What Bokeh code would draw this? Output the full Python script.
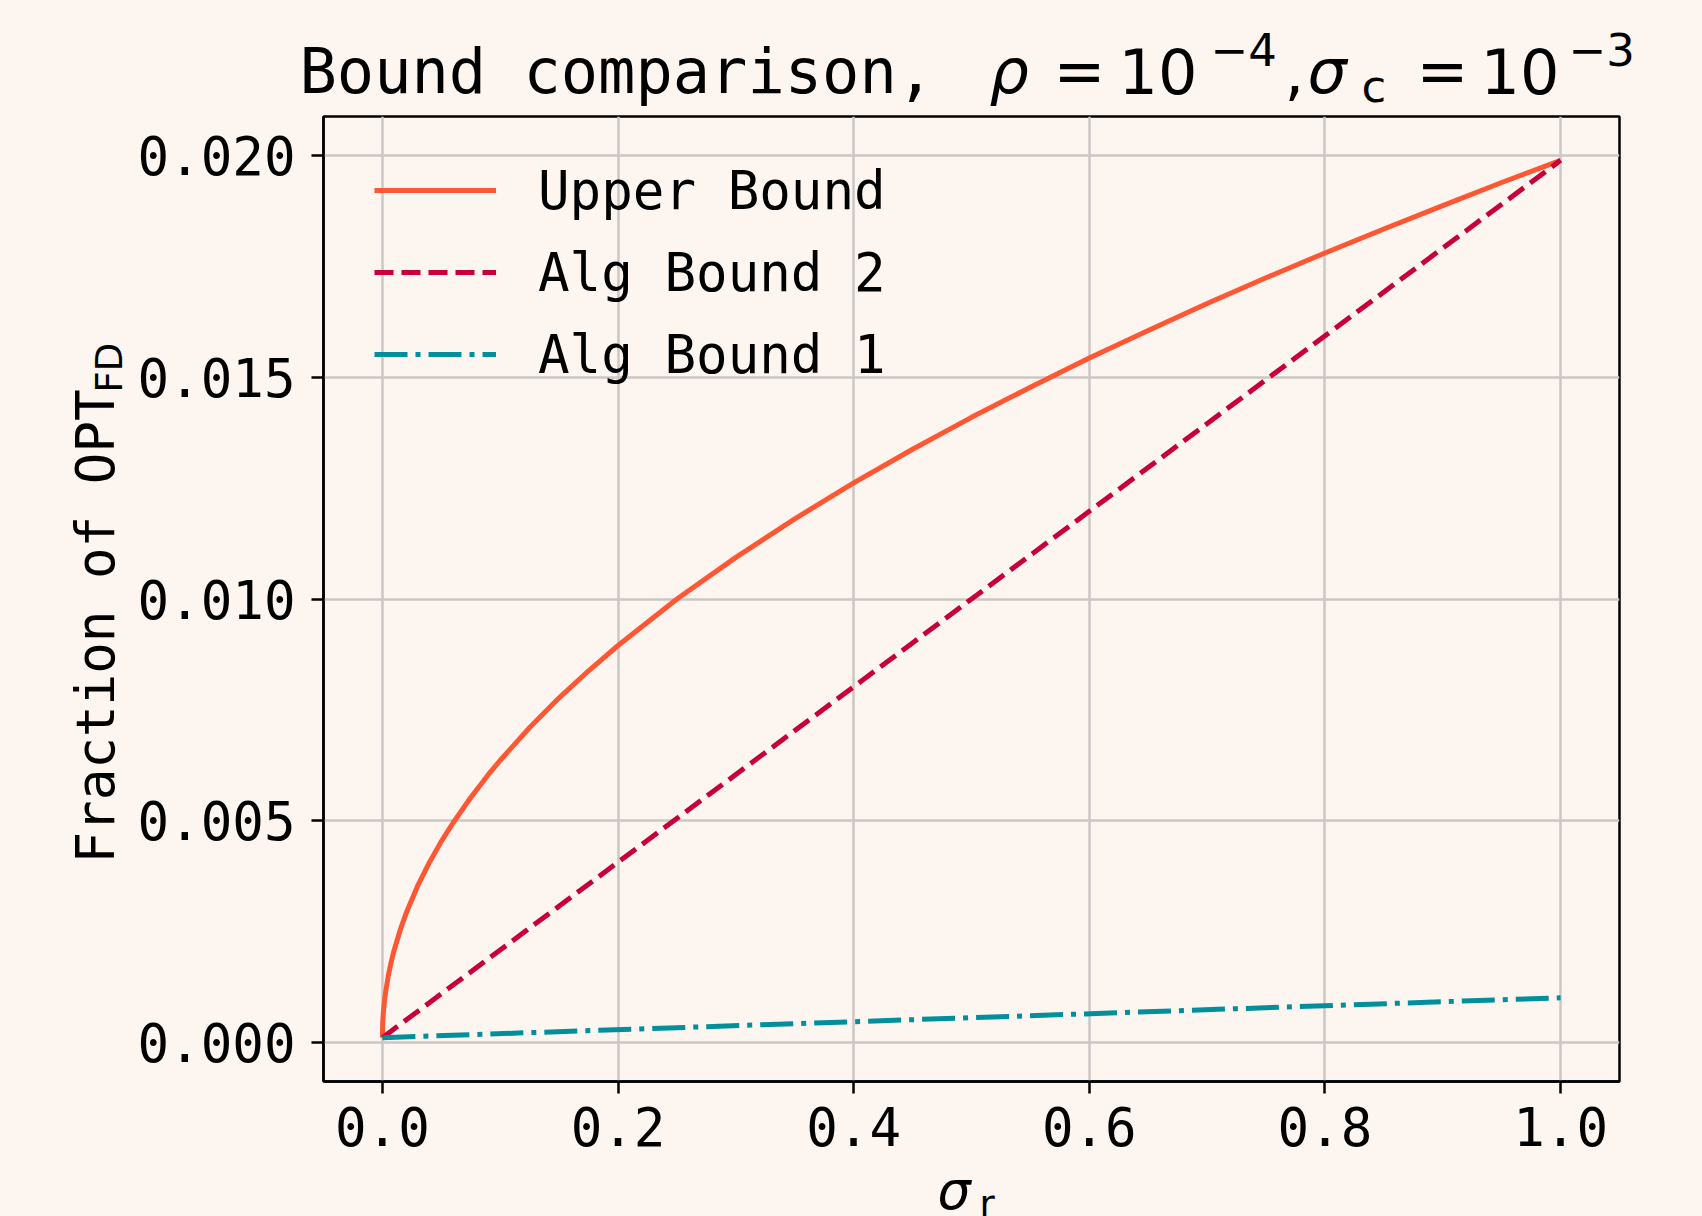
import math
from bokeh.plotting import figure
from bokeh.layouts import column, row
from bokeh.models import (Label, Legend, LegendItem, FixedTicker,
                          PrintfTickFormatter, Range1d)
from bokeh.embed import file_html
from bokeh.resources import INLINE

# ---- data ----
sigma_r = [0.0, 0.0002, 0.0005, 0.001, 0.002, 0.003, 0.005, 0.0075, 0.01,
           0.015, 0.02, 0.03, 0.04, 0.05, 0.06, 0.075, 0.09, 0.1, 0.125,
           0.15, 0.175, 0.2, 0.25, 0.3, 0.35, 0.4, 0.45, 0.5, 0.55, 0.6,
           0.65, 0.7, 0.75, 0.8, 0.85, 0.9, 0.95, 1.0]
upper_bound = [0.0001, 0.00038, 0.00054, 0.00073, 0.00099, 0.00118, 0.0015,
               0.00181, 0.00208, 0.00252, 0.0029, 0.00353, 0.00406, 0.00453,
               0.00495, 0.00552, 0.00604, 0.00636, 0.0071, 0.00777, 0.00838,
               0.00895, 0.0100, 0.01094, 0.01181, 0.01262, 0.01338, 0.0141,
               0.01478, 0.01544, 0.01606, 0.01667, 0.01725, 0.01781, 0.01835,
               0.01888, 0.0194, 0.0199]
sigma_r_lin = [0.0, 1.0]
alg_bound_2 = [0.0001, 0.0199]
alg_bound_1 = [0.0001, 0.0010]

x_ticks = [0.0, 0.2, 0.4, 0.6, 0.8, 1.0]
y_ticks = [0.0, 0.005, 0.010, 0.015, 0.020]
series_names = ["Upper Bound", "Alg Bound 2", "Alg Bound 1"]

# ---- style ----
BG = "#FDF5F0"
C_UPPER = "#FF5733"
C_ALG2 = "#C70039"
C_ALG1 = "#028F9C"
GRID = "#CBC7C6"
MONO = "DejaVu Sans Mono"
SANS = "DejaVu Sans"
S_BASE = 52.5
S_SUB = 37.0
S_TITLE = 62.0
S_TSUB = 45.0
MID = 0.345  # distance baseline -> text middle, in em

W = 1702
TOP_H = 113
MID_H = 1055
BOT_H = 1216 - TOP_H - MID_H
LEFT_W = 130


def blank(width, height):
    f = figure(width=width, height=height, output_backend="svg",
               toolbar_location=None, x_axis_type=None, y_axis_type=None,
               min_border=0, x_range=Range1d(0, 1), y_range=Range1d(0, 1))
    f.outline_line_color = None
    f.background_fill_color = BG
    f.border_fill_color = BG
    return f


def lab(fig, x, base, text, font=SANS, size=S_BASE, style="normal",
        vertical=False):
    """x, base: position of the text origin / baseline in screen px
    (from the frame's left and bottom)."""
    off = MID * size
    if vertical:
        ax, ay, ang = x - off, base, math.pi / 2
    else:
        ax, ay, ang = x, base + off, 0.0
    fig.add_layout(Label(x=ax, y=ay, x_units="screen", y_units="screen",
                         text=text, text_font=font,
                         text_font_size=f"{size}px",
                         text_font_style=style, text_color="black",
                         text_align="left", text_baseline="middle",
                         angle=ang))


# ---- main plot ----
p = figure(width=W - LEFT_W, height=MID_H, output_backend="svg",
           toolbar_location=None,
           x_range=Range1d(-0.05, 1.05), y_range=Range1d(-0.00089, 0.02089),
           min_border_left=193, min_border_right=83,
           min_border_top=3, min_border_bottom=87)

p.background_fill_color = BG
p.border_fill_color = BG
p.outline_line_color = "black"
p.outline_line_width = 2.5

p.xaxis.ticker = FixedTicker(ticks=x_ticks)
p.yaxis.ticker = FixedTicker(ticks=y_ticks)
p.xaxis.formatter = PrintfTickFormatter(format="%.1f")
p.yaxis.formatter = PrintfTickFormatter(format="%.3f")
for ax in (p.xaxis, p.yaxis):
    ax.axis_line_color = "black"
    ax.axis_line_width = 2.5
    ax.major_tick_line_color = "black"
    ax.major_tick_line_width = 2.5
    ax.major_tick_out = 12
    ax.major_tick_in = 0
    ax.minor_tick_line_color = None
    ax.major_label_text_font = MONO
    ax.major_label_text_font_size = f"{S_BASE}px"
    ax.major_label_text_color = "black"
p.yaxis.major_label_standoff = 16
p.xaxis.major_label_standoff = 13

p.xgrid.ticker = FixedTicker(ticks=x_ticks)
p.ygrid.ticker = FixedTicker(ticks=y_ticks)
p.grid.grid_line_color = GRID
p.grid.grid_line_width = 2.5

r1 = p.line(sigma_r, upper_bound, line_color=C_UPPER, line_width=5,
            line_join="round")
r2 = p.line(sigma_r_lin, alg_bound_2, line_color=C_ALG2, line_width=5,
            line_dash="19 8")
r3 = p.line(sigma_r_lin, alg_bound_1, line_color=C_ALG1, line_width=5,
            line_dash="33 8 5 8")

legend = Legend(items=[LegendItem(label=series_names[0], renderers=[r1]),
                       LegendItem(label=series_names[1], renderers=[r2]),
                       LegendItem(label=series_names[2], renderers=[r3])],
                location=(51, 696), padding=0, margin=0, spacing=20,
                glyph_width=122, glyph_height=62, label_height=62,
                label_standoff=42, label_text_font=MONO,
                label_text_font_size=f"{S_BASE}px", label_text_color="black",
                background_fill_alpha=0, border_line_alpha=0)
p.add_layout(legend)

# ---- title strip: Bound comparison, rho = 10^-4, sigma_c = 10^-3 ----
t = blank(W, TOP_H)
TB = TOP_H - 92      # main baseline (from strip bottom)
TSUP = TOP_H - 65    # superscript baseline
TSUB = TOP_H - 102   # subscript baseline
lab(t, 299, TB, "Bound comparison, ", font=MONO, size=S_TITLE)
lab(t, 989, TB, "ρ", size=S_TITLE, style="italic")
lab(t, 1053, TB, "=", size=S_TITLE)
lab(t, 1118, TB, "10", size=S_TITLE)
lab(t, 1210, TSUP, "−4", size=S_TSUB)
lab(t, 1284, TB, ",", size=S_TITLE)
lab(t, 1307, TB, "σ", size=S_TITLE, style="italic")
lab(t, 1361, TSUB, "c", size=S_TSUB)
lab(t, 1416, TB, "=", size=S_TITLE)
lab(t, 1480, TB, "10", size=S_TITLE)
lab(t, 1568, TSUP, "−3", size=S_TSUB)

# ---- y label strip: Fraction of OPT_FD (frame aligned with main frame) ----
yl = blank(LEFT_W, MID_H)
FRAME_BOTTOM = 1081
lab(yl, 113, FRAME_BOTTOM - 863, "Fraction of OPT", font=MONO, size=S_BASE,
    vertical=True)
lab(yl, 122, FRAME_BOTTOM - 392, "FD", size=S_SUB, vertical=True)

# ---- x label strip: sigma_r ----
xl = blank(W, BOT_H)
lab(xl, 937, 1216 - 1208, "σ", size=S_BASE, style="italic")
lab(xl, 979, 1216 - 1217, "r", size=S_SUB)

layout = column(t, row(yl, p, spacing=0), xl, spacing=0,
                styles={"background-color": BG})

open("out.html", "w").write(file_html(layout, INLINE))
